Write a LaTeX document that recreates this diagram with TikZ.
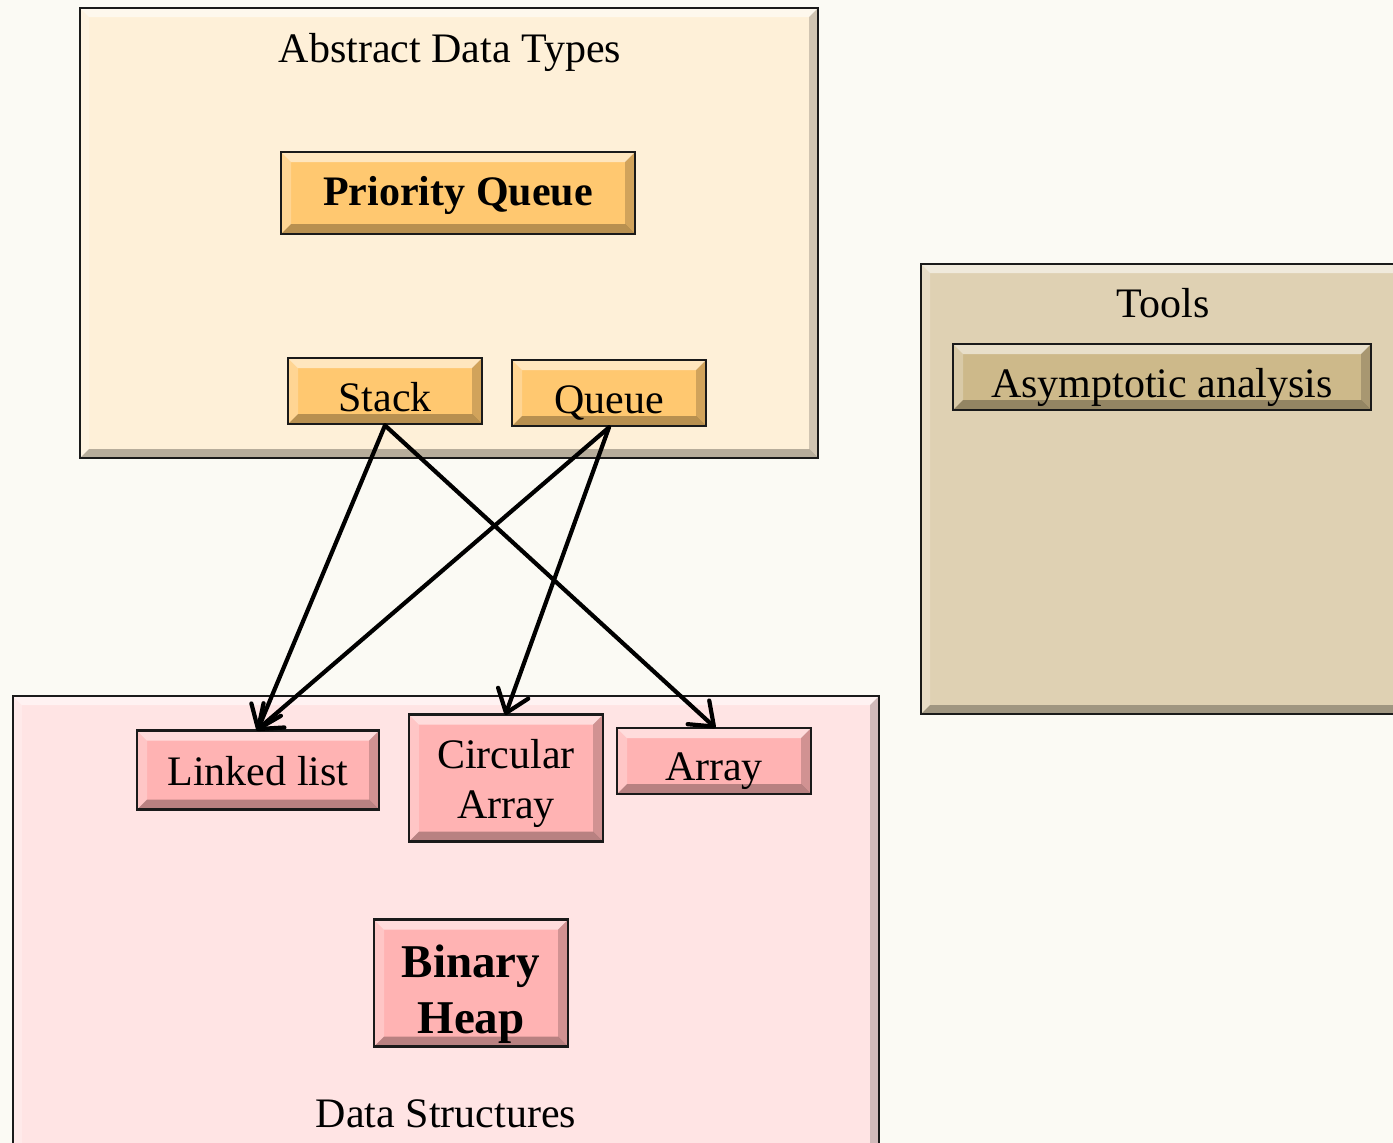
\documentclass[tikz,border=0pt]{standalone}
\usepackage{fontspec}
\setmainfont{Liberation Serif}
\usetikzlibrary{arrows.meta}
\definecolor{bgc}{HTML}{FBFAF4}
\definecolor{adtfill}{HTML}{FEF0D8}
\definecolor{orangebox}{HTML}{FFC870}
\definecolor{toolsfill}{HTML}{DFD1B3}
\definecolor{asymfill}{HTML}{CDB98A}
\definecolor{dsfill}{HTML}{FFE4E4}
\definecolor{pinkbox}{HTML}{FFB3B3}
\definecolor{edge}{HTML}{1A1A1A}
% text placed with its first baseline #1 below the node centre
\newcommand{\boxtext}[2]{\smash{\raisebox{-#1}{\begin{tabular}[t]{@{}c@{}}#2\end{tabular}}}}
\tikzset{
  bevel/.style={
    path picture={
      \fill[white,opacity=0.55] (path picture bounding box.north west) -- (path picture bounding box.north east)
        -- ([xshift=-#1,yshift=-#1]path picture bounding box.north east) -- ([xshift=#1,yshift=-#1]path picture bounding box.north west) -- cycle;
      \fill[white,opacity=0.25] (path picture bounding box.north west) -- ([xshift=#1,yshift=-#1]path picture bounding box.north west)
        -- ([xshift=#1,yshift=#1]path picture bounding box.south west) -- (path picture bounding box.south west) -- cycle;
      \fill[black,opacity=0.28] (path picture bounding box.south west) -- (path picture bounding box.south east)
        -- ([xshift=-#1,yshift=#1]path picture bounding box.south east) -- ([xshift=#1,yshift=#1]path picture bounding box.south west) -- cycle;
      \fill[black,opacity=0.18] (path picture bounding box.north east) -- ([xshift=-#1,yshift=-#1]path picture bounding box.north east)
        -- ([xshift=-#1,yshift=#1]path picture bounding box.south east) -- (path picture bounding box.south east) -- cycle;
    }},
  container/.style={draw=edge, line width=2.8pt, inner sep=0pt, bevel=9pt},
  item/.style={draw=edge, line width=2.8pt, inner sep=0pt, bevel=10pt,
    font=\fontsize{42}{50}\selectfont},
  title/.style={font=\fontsize{42}{50}\selectfont, inner sep=0pt, anchor=base},
  conn/.style={line width=4.2pt, line cap=round,
    -{Straight Barb[length=21pt,width=32pt,line width=4.2pt,round]}, shorten >=-2pt}
}
\begin{document}
\begin{tikzpicture}[x=1pt,y=-1pt]
\fill[bgc] (0,0) rectangle (1393,1143);
\useasboundingbox (0,0) rectangle (1393,1143);
\clip (0,0) rectangle (1393,1143);

% containers
\node[container, fill=adtfill, minimum width=738pt, minimum height=450pt] (adt) at (449,233) {};
\node[container, fill=toolsfill, minimum width=490pt, minimum height=450pt] (tools) at (1166,489) {};
\node[container, fill=dsfill, minimum width=866pt, minimum height=470pt] (ds) at (446,931) {};

\node[title] (adtt) at (450,62) {Abstract Data Types};
\node[title] (toolst) at (1163,317) {Tools};
\node[title] (dst) at (446,1127) {Data Structures};

% items
\node[item, fill=orangebox, minimum width=354pt, minimum height=82pt, font=\fontsize{42}{50}\selectfont\bfseries] (pq) at (458,193) {\boxtext{12pt}{Priority Queue}};
\node[item, fill=orangebox, minimum width=194pt, minimum height=66pt] (stack) at (385,391) {\boxtext{20pt}{Stack}};
\node[item, fill=orangebox, minimum width=194pt, minimum height=66pt] (queue) at (609,393) {\boxtext{20pt}{Queue}};
\node[item, fill=asymfill, minimum width=418pt, minimum height=66pt] (asym) at (1162,377) {\boxtext{20pt}{Asymptotic analysis}};
\node[item, fill=pinkbox, minimum width=242pt, minimum height=79pt] (ll) at (258,770) {\boxtext{15pt}{Linked list}};
\node[item, fill=pinkbox, minimum width=194pt, minimum height=127pt] (circ) at (506,778) {\boxtext{-10pt}{Circular\\Array}};
\node[item, fill=pinkbox, minimum width=194pt, minimum height=66pt] (arr) at (714,761) {\boxtext{19pt}{Array}};
\node[item, fill=pinkbox, minimum width=194pt, minimum height=127pt, font=\fontsize{47}{56}\selectfont\bfseries] (bh) at (471,983) {\boxtext{-6pt}{Binary\\Heap}};

% connectors
\draw[conn] (stack.south) -- (ll.north);
\draw[conn] (stack.south) -- (arr.north);
\draw[conn] (queue.south) -- (ll.north);
\draw[conn] (queue.south) -- (circ.north);
\end{tikzpicture}
\end{document}
